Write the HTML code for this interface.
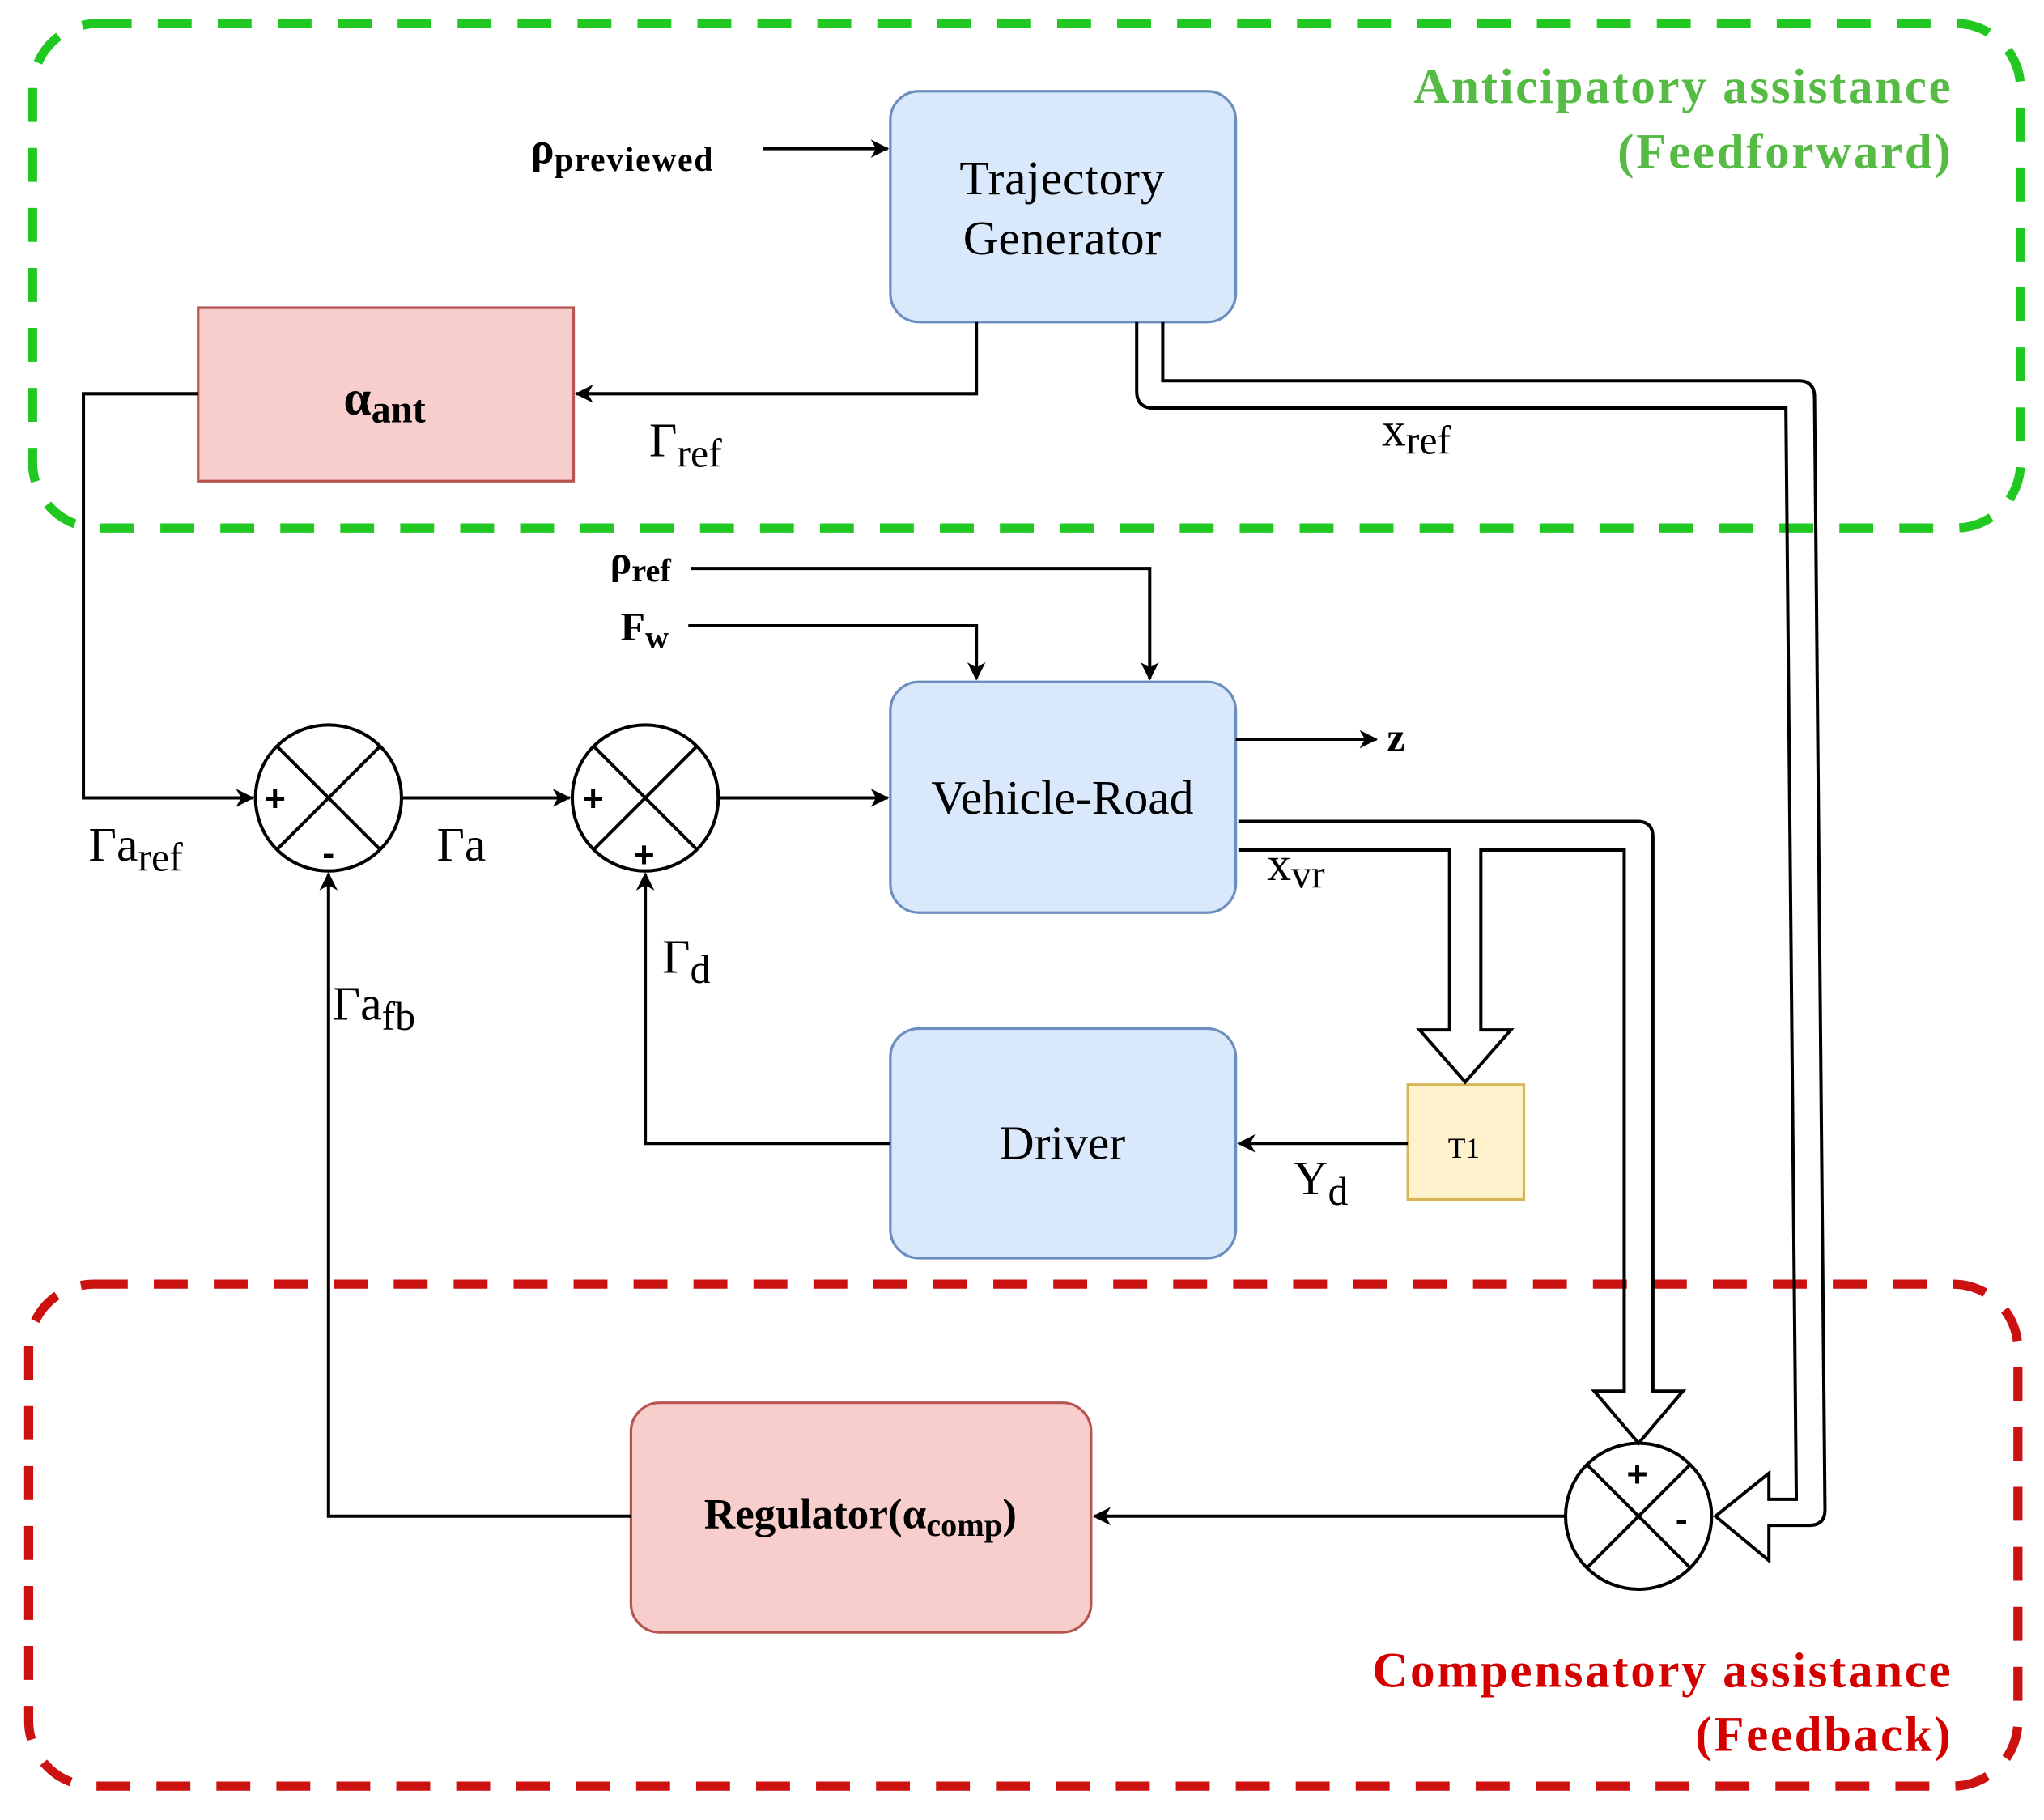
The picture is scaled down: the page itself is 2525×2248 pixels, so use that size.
<!DOCTYPE html>
<html><head><style>html,body{margin:0;padding:0;background:#fff}svg{display:block}</style></head>
<body>
<svg width="2525" height="2248" viewBox="0 0 1568 1396" preserveAspectRatio="none" xmlns="http://www.w3.org/2000/svg" font-family="Liberation Serif, serif">
<defs>
<marker id="a" markerWidth="14" markerHeight="14" refX="13" refY="7" orient="auto" markerUnits="userSpaceOnUse" viewBox="0 0 14 14">
<path d="M0,0 L14,7 L0,14 L4,7 Z" fill="#000"/></marker>
</defs>
<rect x="25" y="18" width="1525" height="387" rx="50" fill="none" stroke="#22c822" stroke-width="7" stroke-dasharray="26 20"/>
<rect x="22" y="985" width="1526" height="385" rx="50" fill="none" stroke="#cc1111" stroke-width="7" stroke-dasharray="26 20"/>
<g font-weight="bold" font-size="38" text-anchor="end" letter-spacing="1.6">
<text x="1498" y="79" fill="#55bb44">Anticipatory assistance</text>
<text x="1498" y="129" fill="#55bb44">(Feedforward)</text>
<text x="1498" y="1294" fill="#d40000">Compensatory assistance</text>
<text x="1498" y="1343" fill="#d40000">(Feedback)</text>
</g>
<rect x="683" y="70" width="265" height="177" rx="22" fill="#dae8fc" stroke="#6c8ebf" stroke-width="2"/>
<text x="815" y="149" font-size="37" text-anchor="middle" letter-spacing="0.5">Trajectory</text>
<text x="815" y="195" font-size="37" text-anchor="middle" letter-spacing="0.5">Generator</text>
<rect x="152" y="236" width="288" height="133" fill="#f8cecc" stroke="#b85450" stroke-width="2"/>
<text x="295" y="318" font-size="38" font-weight="bold" text-anchor="middle">α<tspan font-size="30" dy="6">ant</tspan></text>
<rect x="683" y="523" width="265" height="177" rx="22" fill="#dae8fc" stroke="#6c8ebf" stroke-width="2"/>
<text x="815" y="624" font-size="37" text-anchor="middle">Vehicle-Road</text>
<rect x="683" y="789" width="265" height="176" rx="22" fill="#dae8fc" stroke="#6c8ebf" stroke-width="2"/>
<text x="815" y="889" font-size="37" text-anchor="middle">Driver</text>
<rect x="484" y="1076" width="353" height="176" rx="22" fill="#f8cecc" stroke="#b85450" stroke-width="2"/>
<text x="660" y="1172" font-size="33" font-weight="bold" text-anchor="middle">Regulator(α<tspan font-size="25" dy="6">comp</tspan><tspan dy="-6">)</tspan></text>
<rect x="1080" y="832" width="89" height="88" fill="#fff2cc" stroke="#d6b656" stroke-width="2"/>
<text x="1123" y="888" font-size="22" text-anchor="middle">T1</text>
<g fill="#fff" stroke="#000" stroke-width="2.5">
<circle cx="252" cy="612" r="56"/><circle cx="495" cy="612" r="56"/><circle cx="1257" cy="1163" r="56"/>
</g>
<g stroke="#000" stroke-width="2.5">
<path d="M212,572 L292,652 M292,572 L212,652"/>
<path d="M455,572 L535,652 M535,572 L455,652"/>
<path d="M1217,1123 L1297,1203 M1297,1123 L1217,1203"/>
</g>
<g font-family="Liberation Sans, sans-serif" font-weight="bold" font-size="28" text-anchor="middle">
<text x="211" y="622">+</text><text x="252" y="664">-</text>
<text x="455" y="622">+</text><text x="494" y="665">+</text>
<text x="1256" y="1140">+</text><text x="1290" y="1175">-</text>
</g>
<g fill="none" stroke="#000" stroke-width="2.5">
<path d="M585,114 H681" marker-end="url(#a)"/>
<path d="M749,247 V302 H442" marker-end="url(#a)"/>
<path d="M152,302 H64 V612 H194" marker-end="url(#a)"/>
<path d="M308,612 H437" marker-end="url(#a)"/>
<path d="M551,612 H681" marker-end="url(#a)"/>
<path d="M530,436 H882 V521" marker-end="url(#a)"/>
<path d="M528,480 H749 V521" marker-end="url(#a)"/>
<path d="M948,567 H1056" marker-end="url(#a)"/>
<path d="M1080,877 H950" marker-end="url(#a)"/>
<path d="M683,877 H495 V670" marker-end="url(#a)"/>
<path d="M1201,1163 H839" marker-end="url(#a)"/>
<path d="M484,1163 H252 V670" marker-end="url(#a)"/>
<path d="M872,247 V300 Q872,313 885,313 H1370 L1378,1150 H1357 V1130 L1316,1163 L1357,1197 V1170 H1388 Q1400,1170 1400,1158 L1392,305 Q1392,292 1380,292 H892 V247"/>
<path d="M950,630 H1256 Q1268,630 1268,642 V1067 H1291 L1257,1107 L1223,1067 H1246 V652 H1136 V790 H1159 L1124,830 L1089,790 H1112 V652 H950"/>
</g>
<text x="407" y="125" font-size="34" font-weight="bold">ρ<tspan font-size="26" dy="6" letter-spacing="1">previewed</tspan></text>
<text x="498" y="350" font-size="37">Γ<tspan font-size="31" dy="8">ref</tspan></text>
<text x="1060" y="342" font-size="37">x<tspan font-size="31" dy="6">ref</tspan></text>
<text x="468" y="440" font-size="31" font-weight="bold">ρ<tspan font-size="25" dy="6">ref</tspan></text>
<text x="476" y="491" font-size="31" font-weight="bold">F<tspan font-size="25" dy="6">w</tspan></text>
<text x="1064" y="576" font-size="31" font-weight="bold">z</text>
<text x="68" y="660" font-size="37">Γa<tspan font-size="31" dy="8">ref</tspan></text>
<text x="335" y="660" font-size="37">Γa</text>
<text x="972" y="675" font-size="37">x<tspan font-size="31" dy="6">vr</tspan></text>
<text x="508" y="746" font-size="37">Γ<tspan font-size="31" dy="8">d</tspan></text>
<text x="255" y="782" font-size="37">Γa<tspan font-size="31" dy="8">fb</tspan></text>
<text x="992" y="916" font-size="37">Y<tspan font-size="31" dy="8">d</tspan></text>
</svg>
</body></html>
